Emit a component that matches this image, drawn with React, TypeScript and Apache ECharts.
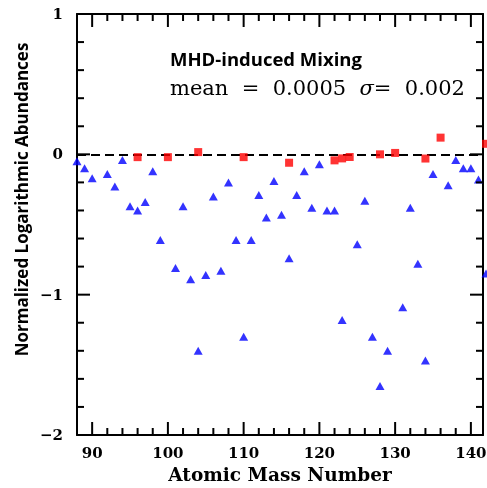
import React, { useEffect, useRef } from "react";
import * as echarts from "echarts";

// ---- data ----
const blueMass = [88, 89, 90, 92, 93, 94, 95, 96, 97, 98, 99, 101, 102, 103, 104, 105, 106, 107, 108, 109, 110, 111, 112, 113, 114, 115, 116, 117, 118, 119, 120, 121, 122, 123, 125, 126, 127, 128, 129, 131, 132, 133, 134, 135, 137, 138, 139, 140, 141, 142];
const blueAbund = [-0.05, -0.1, -0.17, -0.14, -0.23, -0.04, -0.37, -0.4, -0.34, -0.12, -0.61, -0.81, -0.37, -0.89, -1.4, -0.86, -0.3, -0.83, -0.2, -0.61, -1.3, -0.61, -0.29, -0.45, -0.19, -0.43, -0.74, -0.29, -0.12, -0.38, -0.07, -0.4, -0.4, -1.18, -0.64, -0.33, -1.3, -1.65, -1.4, -1.09, -0.38, -0.78, -1.47, -0.14, -0.22, -0.04, -0.1, -0.1, -0.18, -0.85];
const redMass = [96, 100, 104, 110, 116, 122, 123, 124, 128, 130, 134, 136, 142];
const redAbund = [-0.02, -0.02, 0.016, -0.02, -0.06, -0.043, -0.029, -0.019, 0.0, 0.01, -0.03, 0.119, 0.075];

const xMajorTicks = [90, 100, 110, 120, 130, 140];
const xMinorTicks = [92, 94, 96, 98, 102, 104, 106, 108, 112, 114, 116, 118, 122, 124, 126, 128, 132, 134, 136, 138];
const yMajorTicks = [-2, -1, 0, 1];
const yMinorTicks = [-1.8, -1.6, -1.4, -1.2, -0.8, -0.6, -0.4, -0.2, 0.2, 0.4, 0.6, 0.8];
const yTickLabels = ["−2", "−1", "0", "1"];

const xTitle = "Atomic Mass Number";
const yTitle = "Normalized Logarithmic Abundances";
const noteTitle = "MHD-induced Mixing";
const noteStats = "{a|mean  =  0.0005  }{s|σ}{a|=  0.002}";

const X_MIN = 88;
const X_MAX = 141.6;
const Y_MIN = -2;
const Y_MAX = 1;

export default function App() {
  const ref = useRef<HTMLDivElement>(null);

  useEffect(() => {
    if (!ref.current) return;
    const chart = echarts.init(ref.current, null, { renderer: "svg" });
    const black = "#000";
    const ls = () => ({ color: black, width: 2 });
    const serif = "DejaVu Serif";

    // tick marks drawn through the axes' own scales (api.coord)
    const xTickSeries = (values: number[], len: number) => ({
      type: "custom",
      xAxisIndex: 0,
      yAxisIndex: 0,
      silent: true,
      clip: false,
      z: 4,
      data: values.map((v) => [v, Y_MIN]),
      renderItem: (_params: any, api: any) => {
        const x = api.value(0);
        const b = api.coord([x, Y_MIN]);
        const t = api.coord([x, Y_MAX]);
        return {
          type: "group",
          children: [
            { type: "line", shape: { x1: b[0], y1: b[1], x2: b[0], y2: b[1] - len }, style: { stroke: black, lineWidth: 2 } },
            { type: "line", shape: { x1: t[0], y1: t[1], x2: t[0], y2: t[1] + len }, style: { stroke: black, lineWidth: 2 } },
          ],
        };
      },
    });

    const yTickSeries = (values: number[], len: number) => ({
      type: "custom",
      xAxisIndex: 0,
      yAxisIndex: 0,
      silent: true,
      clip: false,
      z: 4,
      data: values.map((v) => [X_MIN, v]),
      renderItem: (_params: any, api: any) => {
        const y = api.value(1);
        const l = api.coord([X_MIN, y]);
        const r = api.coord([X_MAX, y]);
        return {
          type: "group",
          children: [
            { type: "line", shape: { x1: l[0], y1: l[1], x2: l[0] + len, y2: l[1] }, style: { stroke: black, lineWidth: 2 } },
            { type: "line", shape: { x1: r[0], y1: r[1], x2: r[0] - len, y2: r[1] }, style: { stroke: black, lineWidth: 2 } },
          ],
        };
      },
    });

    chart.setOption({
      animation: false,
      grid: { left: 77, right: 4, top: 14, bottom: 53, outerBoundsMode: "none" },
      xAxis: [
        {
          type: "value",
          position: "bottom",
          min: X_MIN,
          max: X_MAX,
          axisLine: { show: true, onZero: false, lineStyle: ls() },
          axisTick: { show: false },
          axisLabel: {
            show: true,
            customValues: xMajorTicks,
            margin: 10,
            color: black,
            fontFamily: serif,
            fontWeight: "bold",
            fontSize: 15,
          },
          splitLine: { show: false },
          name: xTitle,
          nameLocation: "middle",
          nameGap: 30,
          nameTextStyle: { color: black, fontFamily: serif, fontWeight: "bold", fontSize: 18.5 },
        },
        {
          type: "value",
          position: "top",
          min: X_MIN,
          max: X_MAX,
          axisLine: { show: true, onZero: false, lineStyle: ls() },
          axisTick: { show: false },
          axisLabel: { show: false },
          splitLine: { show: false },
        },
      ],
      yAxis: [
        {
          type: "value",
          position: "left",
          min: Y_MIN,
          max: Y_MAX,
          interval: 1,
          axisLine: { show: true, onZero: false, lineStyle: ls() },
          axisTick: { show: false },
          axisLabel: {
            show: true,
            margin: 14,
            color: black,
            fontFamily: serif,
            fontWeight: "bold",
            fontSize: 15,
            formatter: (v: number) => yTickLabels[yMajorTicks.indexOf(Math.round(v))],
          },
          splitLine: { show: false },
        },
        {
          type: "value",
          position: "right",
          min: Y_MIN,
          max: Y_MAX,
          interval: 1,
          axisLine: { show: true, onZero: false, lineStyle: ls() },
          axisTick: { show: false },
          axisLabel: { show: false },
          splitLine: { show: false },
        },
      ],
      series: [
        xTickSeries(xMajorTicks, 13),
        xTickSeries(xMinorTicks, 7),
        yTickSeries(yMajorTicks, 13),
        yTickSeries(yMinorTicks, 7),
        {
          type: "scatter",
          xAxisIndex: 0,
          yAxisIndex: 0,
          symbol: "triangle",
          symbolSize: [9, 8],
          clip: false,
          itemStyle: { color: "#0000ff" },
          data: blueMass.map((m, i) => [m, blueAbund[i]]),
          z: 3,
        },
        {
          type: "scatter",
          xAxisIndex: 0,
          yAxisIndex: 0,
          symbol: "rect",
          symbolSize: 8,
          clip: false,
          itemStyle: { color: "#ff0000" },
          data: redMass.map((m, i) => [m, redAbund[i]]),
          z: 3,
          markLine: {
            silent: true,
            z: 1,
            symbol: "none",
            label: { show: false },
            lineStyle: { color: black, width: 2, type: [9, 5] },
            data: [{ yAxis: 0 }],
          },
        },
      ],
      graphic: [
        {
          type: "text",
          x: 170,
          y: 58.5,
          style: {
            text: noteTitle,
            fontFamily: "Open Sans",
            fontWeight: "bold",
            fontSize: 18.5,
            fill: black,
            align: "left",
            verticalAlign: "middle",
          },
        },
        {
          type: "text",
          x: 170,
          y: 88,
          style: {
            text: noteStats,
            fill: black,
            align: "left",
            verticalAlign: "middle",
            rich: {
              a: { fontFamily: serif, fontSize: 21, fill: black },
              s: { fontFamily: serif, fontSize: 21, fontStyle: "italic", fill: black },
            },
          },
        },
        {
          type: "text",
          x: 21,
          y: 199.5,
          rotation: Math.PI / 2,
          style: {
            text: yTitle,
            fontFamily: "Open Sans",
            fontWeight: "bold",
            fontSize: 17,
            fill: black,
            align: "center",
            verticalAlign: "middle",
          },
        },
      ],
    });

    return () => chart.dispose();
  }, []);

  return <div ref={ref} style={{ position: "fixed", left: 0, top: 0, width: 487, height: 488 }} />;
}
